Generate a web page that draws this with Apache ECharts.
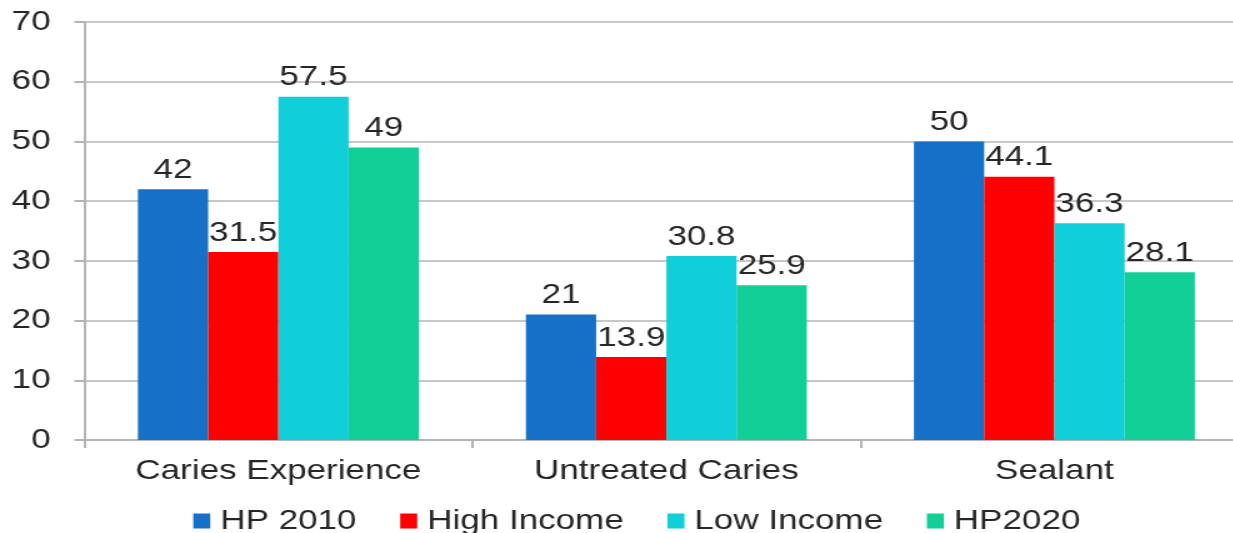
<!DOCTYPE html>
<html><head><meta charset="utf-8">
<script src="https://cdn.jsdelivr.net/npm/echarts@6/dist/echarts.min.js"></script>
<style>
html,body{margin:0;padding:0;background:#fff;overflow:hidden;width:1233px;height:533px}
#c{width:1010px;height:533px;transform:scaleX(1.25);transform-origin:0 0}
</style>
</head><body><div id="c"></div>
<script>
const categories = ['Caries Experience', 'Untreated Caries', 'Sealant'];
const hp2010 = [42, 21, 50];
const highIncome = [31.5, 13.9, 44.1];
const lowIncome = [57.5, 30.8, 36.3];
const hp2020 = [49, 25.9, 28.1];
const seriesNames = ['HP 2010', 'High Income', 'Low Income', 'HP2020'];
const colors = ['#1570c8', '#ff0000', '#10cfd9', '#12cf98'];
const values = [hp2010, highIncome, lowIncome, hp2020];

const font = 'Liberation Sans, Arial, sans-serif';
const txt = '#262626';
const legendPadRight = [0, 14, 0, 0];
const chart = echarts.init(document.getElementById('c'));
chart.setOption({
  animation: false,
  textStyle: { fontFamily: font },
  grid: { left: 67.5, width: 931.2, top: 22, bottom: 93, containLabel: false, outerBoundsMode: 'none' },
  legend: {
    top: 502, left: 149.6, itemWidth: 13.6, itemHeight: 15, itemGap: 35,
    icon: 'rect',
    textStyle: { fontSize: 28, color: txt, fontFamily: font, padding: [0, 0, 0, 3] },
    data: seriesNames.map((n, i) => ({ name: n, textStyle: { padding: [0, legendPadRight[i], 0, 3] } }))
  },
  xAxis: {
    type: 'category', data: categories,
    axisLine: { lineStyle: { color: '#b4b4b4', width: 2 } },
    axisTick: { show: true, length: 8, lineStyle: { color: '#b4b4b4', width: 2 } },
    axisLabel: { fontSize: 28, color: txt, margin: 17, fontFamily: font }
  },
  yAxis: {
    type: 'value', min: 0, max: 70, interval: 10,
    axisLine: { show: true, lineStyle: { color: '#b4b4b4', width: 2 } },
    axisTick: { show: true, length: 8, lineStyle: { color: '#b4b4b4', width: 2 } },
    splitLine: { show: true, lineStyle: { color: '#c8c8c8', width: 2 } },
    axisLabel: { fontSize: 28, color: txt, margin: 27, fontFamily: font }
  },
  series: values.map((v, i) => ({
    name: seriesNames[i], type: 'bar', data: v,
    barGap: '0%', barCategoryGap: '27.6%',
    itemStyle: { color: colors[i] },
    label: { show: true, position: 'top', fontSize: 28, color: txt, distance: 5, fontFamily: font }
  }))
});
</script></body></html>
